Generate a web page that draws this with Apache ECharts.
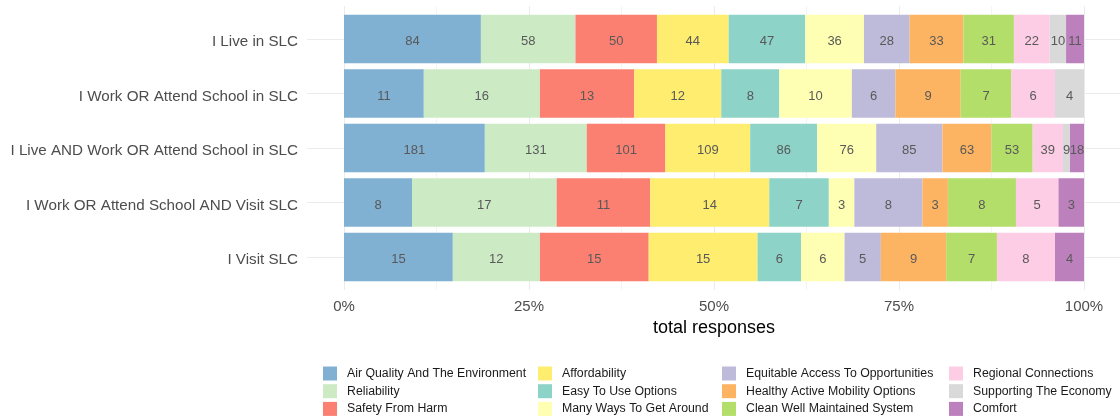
<!DOCTYPE html>
<html>
<head>
<meta charset="utf-8">
<script src="https://cdn.jsdelivr.net/npm/echarts@6/dist/echarts.min.js"></script>
<style>
html,body{margin:0;padding:0;background:#fff;}
#chart{width:1120px;height:419px;}
</style>
</head>
<body>
<div id="chart"></div>
<script>
const groups = [
  "I Live in SLC",
  "I Work OR Attend School in SLC",
  "I Live AND Work OR Attend School in SLC",
  "I Work OR Attend School AND Visit SLC",
  "I Visit SLC"
];
const themes = [
  "Air Quality And The Environment",
  "Reliability",
  "Safety From Harm",
  "Affordability",
  "Easy To Use Options",
  "Many Ways To Get Around",
  "Equitable Access To Opportunities",
  "Healthy Active Mobility Options",
  "Clean Well Maintained System",
  "Regional Connections",
  "Supporting The Economy",
  "Comfort"
];
const themeColors = ["#80B1D3","#CCEBC5","#FB8072","#FFED6F","#8DD3C7","#FFFFB3","#BEBADA","#FDB462","#B3DE69","#FCCDE5","#D9D9D9","#BC80BD"];
// counts per group, in theme order
const liveSLC        = [84, 58, 50, 44, 47, 36, 28, 33, 31, 22, 10, 11];
const workSchoolSLC  = [11, 16, 13, 12, 8, 10, 6, 9, 7, 6, 4, 0];
const liveAndWorkSLC = [181, 131, 101, 109, 86, 76, 85, 63, 53, 39, 9, 18];
const workAndVisit   = [8, 17, 11, 14, 7, 3, 8, 3, 8, 5, 0, 3];
const visitSLC       = [15, 12, 15, 15, 6, 6, 5, 9, 7, 8, 0, 4];
const xTicks = [0, 0.25, 0.5, 0.75, 1];

const counts = [liveSLC, workSchoolSLC, liveAndWorkSLC, workAndVisit, visitSLC];
const totals = counts.map(r => r.reduce((a, b) => a + b, 0));

const FONT = "Liberation Sans, Arial, sans-serif";

const series = themes.map((t, i) => ({
  name: t,
  type: 'bar',
  stack: 'total',
  xAxisIndex: 0,
  yAxisIndex: 0,
  barCategoryGap: '11%',
  itemStyle: {color: themeColors[i]},
  label: {
    show: true,
    position: 'inside',
    offset: [0, 2.5],
    fontFamily: FONT,
    fontSize: 13,
    color: '#595959',
    formatter: p => counts[p.dataIndex][i] > 0 ? String(counts[p.dataIndex][i]) : ''
  },
  emphasis: {disabled: true},
  data: counts.map((r, g) => r[i] / totals[g])
}));

const legendCols = [
  {left: 323, names: themes.slice(0, 3)},
  {left: 538, names: themes.slice(3, 6)},
  {left: 722, names: themes.slice(6, 9)},
  {left: 949, names: themes.slice(9, 12)}
];

const option = {
  animation: false,
  backgroundColor: '#ffffff',
  grid: [
    {left: 344, width: 740, top: 11.75, height: 272.5},   // bars
    {left: 344, width: 740, top: 6, height: 284},         // vertical gridlines + x labels
    {left: 307, right: 0, top: 39, height: 218}           // horizontal gridlines
  ],
  xAxis: [
    {gridIndex: 0, type: 'value', min: 0, max: 1, show: false},
    {gridIndex: 1, type: 'value', min: xTicks[0], max: xTicks[xTicks.length - 1], interval: 0.25,
     axisLine: {show: false}, axisTick: {show: false},
     splitLine: {show: true, lineStyle: {color: '#ebebeb', width: 1}},
     minorTick: {show: false, splitNumber: 2},
     minorSplitLine: {show: true, lineStyle: {color: '#f4f4f4', width: 1}},
     axisLabel: {formatter: v => Math.round(v * 100) + '%', fontFamily: FONT, fontSize: 15, color: '#4d4d4d', margin: 9},
     name: 'total responses', nameLocation: 'middle', nameGap: 28,
     nameTextStyle: {fontFamily: FONT, fontSize: 18, color: '#000'}},
    {gridIndex: 2, type: 'value', show: false}
  ],
  yAxis: [
    {gridIndex: 0, type: 'category', data: groups, inverse: true,
     axisLine: {show: false}, axisTick: {show: false}, splitLine: {show: false},
     axisLabel: {fontFamily: FONT, fontSize: 15.2, color: '#4d4d4d', margin: 46,
                 verticalAlign: 'top', lineHeight: 6}},
    {gridIndex: 1, type: 'value', show: false},
    {gridIndex: 2, type: 'category', data: groups, inverse: true, boundaryGap: false,
     axisLine: {show: false}, axisTick: {show: false}, axisLabel: {show: false},
     splitLine: {show: true, lineStyle: {color: '#ebebeb', width: 1}}}
  ],
  legend: legendCols.map(c => ({
    orient: 'vertical', left: c.left, top: 366.5, padding: 0,
    itemWidth: 14, itemHeight: 14, itemGap: 3.7, icon: 'rect',
    selectedMode: false,
    textStyle: {fontFamily: FONT, fontSize: 12.3, color: '#1a1a1a', padding: [0, 0, 0, 5]},
    data: c.names
  })),
  series: series
};

const chart = echarts.init(document.getElementById('chart'), null, {renderer: 'canvas'});
chart.setOption(option);
</script>
</body>
</html>
